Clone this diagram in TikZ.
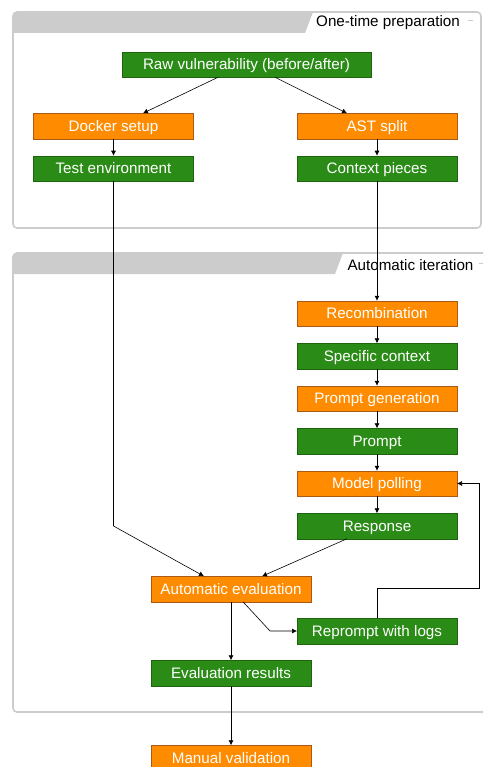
\documentclass[tikz,border=0pt]{standalone}
\usepackage{fontspec}
\setmainfont{Liberation Sans}
\usetikzlibrary{positioning,arrows.meta}
\definecolor{boxgreen}{RGB}{42,140,22}
\definecolor{boxorange}{RGB}{255,140,0}
\definecolor{edgegreen}{RGB}{30,100,15}
\definecolor{edgeorange}{RGB}{170,90,20}
\definecolor{groupgray}{RGB}{204,204,204}

\begin{document}
\begin{tikzpicture}[x=1pt, y=1pt,
    font=\fontsize{15.2}{18}\selectfont,
    node distance=17pt,
    greenbox/.style={rectangle, draw=edgegreen, fill=boxgreen, text=white, minimum width=160pt, minimum height=25.5pt, text height=11pt, text depth=0.8pt, inner sep=0pt, outer sep=0pt},
    orangebox/.style={rectangle, draw=edgeorange, fill=boxorange, text=white, minimum width=160pt, minimum height=25.5pt, text height=11pt, text depth=0.8pt, inner sep=0pt, outer sep=0pt},
    groupframe/.style={draw=groupgray, line width=1.6pt, rounded corners=4pt},
    flow/.style={-{Latex[length=5pt,width=5pt]}, line width=0.6pt}]
    \clip (0,0) rectangle (483,-767);

    \fill[groupgray] (13,-33) [rounded corners=4pt] -- (13,-12) [sharp corners] -- (313,-12) -- (305,-33) -- cycle;
    \draw[groupframe] (13,-12) rectangle (481,-228);
    \node[anchor=center](prep) at (388,-23) {One-time preparation};
    \draw[groupgray, line width=1pt] (468,-21) -- (473,-21);

    \fill[groupgray] (13,-274) [rounded corners=4pt] -- (13,-253) [sharp corners] -- (343,-253) -- (335,-274) -- cycle;
    \draw[groupframe] (13,-253) rectangle (495,-712);
    \node[anchor=center](iter) at (410.5,-265) {Automatic iteration};
    \draw[groupgray, line width=1pt] (479,-263) -- (484,-263);

    \node[greenbox, minimum width=249pt](raw) at (246.5,-64.5) {Raw vulnerability (before/after)};
    \node[orangebox](docker) at (113.5,-126) {Docker setup};
    \node[orangebox](ast) at (377,-126) {AST split};
    \node[greenbox](testenv) [below=of docker] {Test environment};
    \node[greenbox](ctx) [below=of ast] {Context pieces};

    \node[orangebox](recomb) at (377,-313.5) {Recombination};
    \node[greenbox](spec) [below=of recomb] {Specific context};
    \node[orangebox](pgen) [below=of spec] {Prompt generation};
    \node[greenbox](prompt) [below=of pgen] {Prompt};
    \node[orangebox](poll) [below=of prompt] {Model polling};
    \node[greenbox](resp) [below=of poll] {Response};

    \node[orangebox](autoeval) at (231,-589) {Automatic evaluation};
    \node[greenbox](reprompt) at (377,-631) {Reprompt with logs};
    \node[greenbox](results) at (231,-673) {Evaluation results};
    \node[orangebox](manual) at (231,-758) {Manual validation};

    \draw[flow] ([xshift=-28.5pt]raw.south) -- ([xshift=29.5pt]docker.north);
    \draw[flow] ([xshift=28.5pt]raw.south) -- ([xshift=-30pt]ast.north);
    \draw[flow] (docker.south) -- (testenv.north);
    \draw[flow] (ast.south) -- (ctx.north);
    \draw[flow] (ctx.south) -- (recomb.north);
    \draw[flow] (recomb.south) -- (spec.north);
    \draw[flow] (spec.south) -- (pgen.north);
    \draw[flow] (pgen.south) -- (prompt.north);
    \draw[flow] (prompt.south) -- (poll.north);
    \draw[flow] (poll.south) -- (resp.north);

    \draw[flow] (testenv.south) -- (testenv.south |- resp) -- ([xshift=-27pt]autoeval.north);
    \draw[flow] ([xshift=-30pt]resp.south) -- ([xshift=31pt]autoeval.north);
    \draw[flow] (autoeval.south) -- (results.north);
    \draw[flow] ([xshift=12pt]autoeval.south) -- ([xshift=-27pt]reprompt.west) -- (reprompt.west);
    \draw[flow] (reprompt.north) -- ++(0,30) -| ([xshift=22pt]poll.east) -- (poll.east);
    \draw[flow] (results.south) -- (manual.north);
\end{tikzpicture}
\end{document}
